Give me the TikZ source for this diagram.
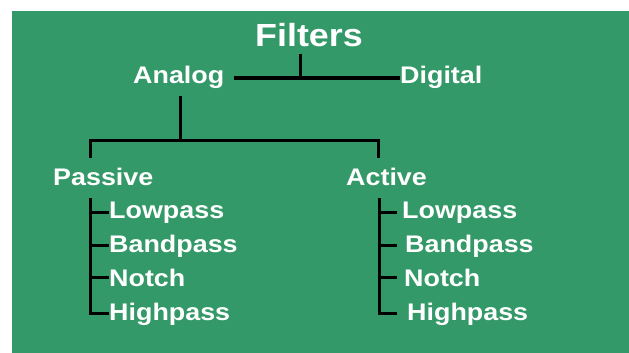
\documentclass[tikz,border=0pt]{standalone}
\usepackage{fontspec}
\newfontfamily\tagfont{Liberation Sans}[FakeStretch=1.12]
\definecolor{leafgreen}{RGB}{52,153,104}

\begin{document}
\begin{tikzpicture}[x=1pt, y=-1pt,
    lbl/.style={text=white, inner sep=0pt, anchor=base west,
        font=\tagfont\bfseries\fontsize{24}{24}\selectfont},
    wire/.style={line width=3pt, black}]
    \useasboundingbox (0,0) rectangle (629,353);
    \fill[leafgreen] (12,11) rectangle (629,353);
    % Top levels
    \node[lbl, font=\tagfont\bfseries\fontsize{32}{32}\selectfont] (filters) at (255,47) {Filters};
    \node[lbl] (analog) at (133,83) {Analog};
    \node[lbl] (digital) at (400,83) {Digital};
    \node[lbl] (passive) at (53,185) {Passive};
    \node[lbl] (active) at (346,185) {Active};
    % Junctions
    \coordinate (ftop) at (300,54);
    \coordinate (fjoin) at (300,78);
    \coordinate (aleft) at (234,78);
    \coordinate (atop) at (180,96);
    \coordinate (ajoin) at (180,140);
    \coordinate (ptop) at (90,158);
    \coordinate (qtop) at (378,158);
    \draw[wire] (ftop) -- (fjoin);
    \draw[wire] (aleft) -- (digital.west |- fjoin);
    \draw[wire] (atop) -- (ajoin);
    \draw[wire] (ptop) |- (ajoin) -| (qtop);
    % Passive filters
    \coordinate (pbar) at (90,198);
    \foreach \name/\i in {Lowpass/1,Bandpass/2,Notch/3,Highpass/4} {
        \node[lbl] (p\i) at (109,184+34*\i) {\name};
    }
    \draw[wire] (pbar) |- (p4.west);
    \foreach \i in {1,2,3} {
        \draw[wire] (pbar |- p\i.west) -- (p\i.west);
    }
    % Active filters
    \coordinate (qbar) at (379,198);
    \coordinate (qtick) at (397,198);
    \foreach \name/\i/\x in {Lowpass/1/402,Bandpass/2/405,Notch/3/404,Highpass/4/407} {
        \node[lbl] (a\i) at (\x,184+34*\i) {\name};
    }
    \draw[wire] (qbar) |- (qtick |- a4.west);
    \foreach \i in {1,2,3} {
        \draw[wire] (qbar |- a\i.west) -- (qtick |- a\i.west);
    }
\end{tikzpicture}
\end{document}
